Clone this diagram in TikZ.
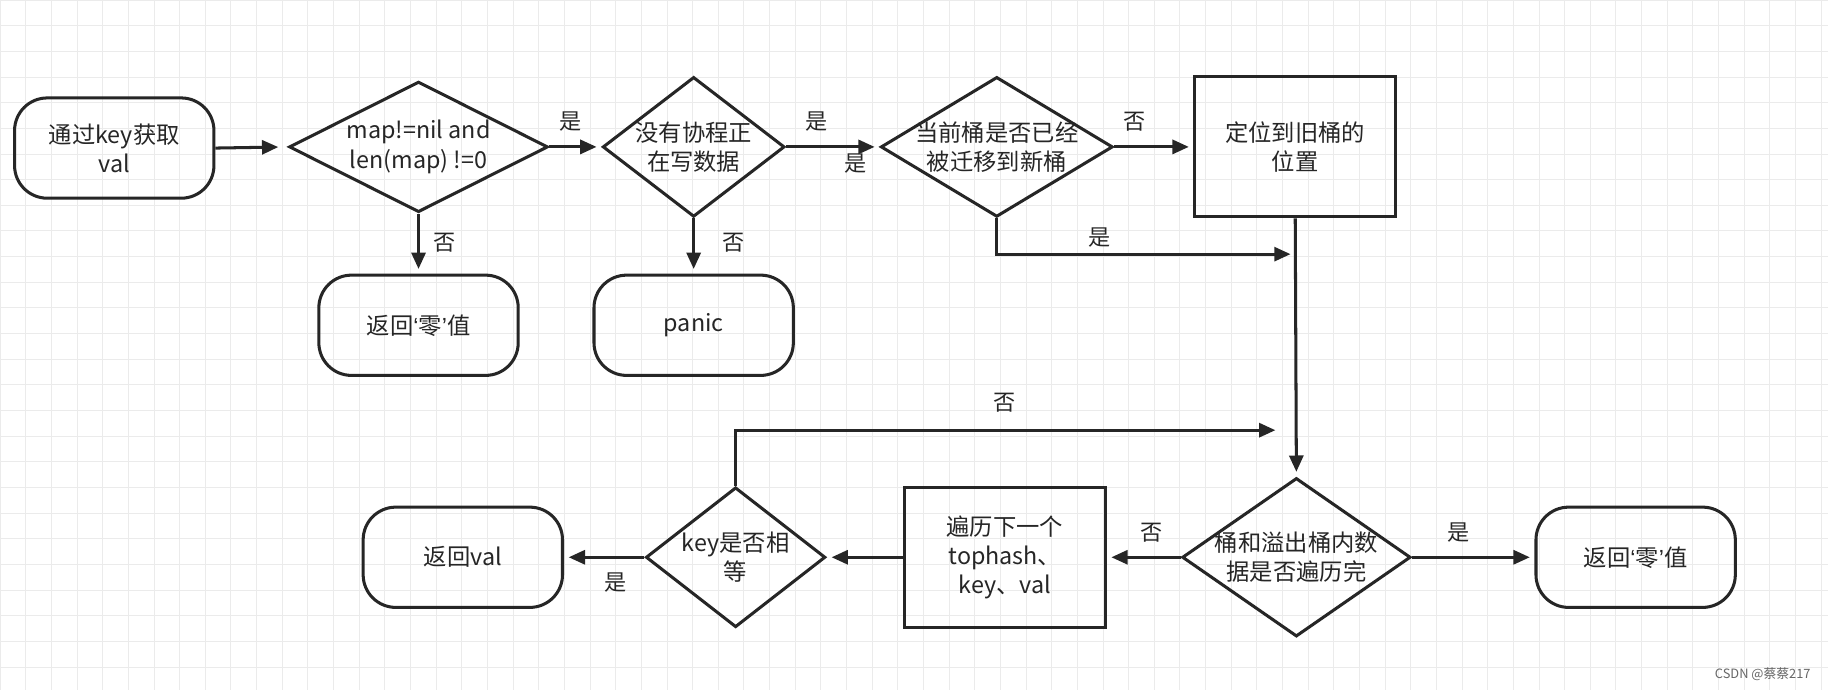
\documentclass[tikz,border=0pt]{standalone}
\usepackage{fontspec}
\setmainfont{Liberation Sans}
\newfontfamily\cjk{Noto Sans CJK SC}
\newcommand{\myLq}{{\rmfamily ‘}}
\newcommand{\myRq}{{\rmfamily ’}}
\usetikzlibrary{shapes.geometric,arrows.meta}
\begin{document}
\begin{tikzpicture}[x=1pt,y=-1pt,
  every node/.style={font=\cjk\fontsize{20}{25}\selectfont,text=black!85,align=center},
  term/.style={draw=black!85,line width=2.6pt,rounded corners=28pt,minimum width=171pt,minimum height=86pt},
  box/.style={draw=black!85,line width=2.6pt,minimum width=172pt,minimum height=120pt},
  dia/.style={draw=black!85,line width=2.6pt,diamond,inner sep=0pt},
  line/.style={draw=black!85,line width=2.6pt},
  arr/.style={line,-{Triangle[length=14pt,width=12pt]},shorten >=4pt},
  lab/.style={font=\cjk\fontsize{19}{22}\selectfont}]
\useasboundingbox (0,0) rectangle (1568,592);
\fill[white] (0,0) rectangle (1568,592);
\foreach \i in {0,22,...,1568} \draw[black!8,line width=0.6pt] (\i,0) -- (\i,592);
\foreach \j in {0,22,...,592} \draw[black!8,line width=0.6pt] (0,\j) -- (1568,\j);
\node[term] (start) at (98,127) {通过key获取\\val};
\node[dia,minimum width=222pt,minimum height=112pt] (d1) at (359,126) {};
\node at (359,126) {map!=nil and\\len(map) !=0};
\node[dia,minimum width=156pt,minimum height=120pt] (d2) at (595,126) {};
\node at (595,126) {没有协程正\\在写数据};
\node[dia,minimum width=199pt,minimum height=120pt] (d3) at (855,126) {};
\node at (855,126) {当前桶是否已经\\被迁移到新桶};
\node[box] (r1) at (1111,126) {定位到旧桶的\\位置};
\node[term] (z1) at (359,279) {返回\myLq 零\myRq 值};
\node[term] (pa) at (595,279) {panic};
\node[dia,minimum width=196pt,minimum height=136pt] (d4) at (1112,478) {};
\node at (1112,478) {桶和溢出桶内数\\据是否遍历完};
\node[term] (z2) at (1403,478) {返回\myLq 零\myRq 值};
\node[box] (r2) at (862,478) {遍历下一个\\tophash、\\key、val};
\node[dia,minimum width=154pt,minimum height=120pt] (d5) at (631,478) {};
\node at (631,478) {key是否相\\等};
\node[term] (rv) at (397,478) {返回val};
\coordinate (c1) at (855,218);
\coordinate (c2) at (1111,218);
\coordinate (c3) at (631,369);
\coordinate (c4) at (1098,369);
\draw[arr,shorten >=8pt] (start.east) -- (d1.west);
\draw[arr] (d1.east) -- (d2.west);
\draw[arr] (d2.east) -- (d3.west);
\draw[arr] (d3.east) -- (r1.west);
\draw[arr] (d1.south) -- (z1.north);
\draw[arr] (d2.south) -- (pa.north);
\draw[arr] (d3.south) -- (c1) -- (c2);
\draw[arr] (r1.south) -- (d4.north);
\draw[arr] (d4.east) -- (z2.west);
\draw[arr] (d4.west) -- (r2.east);
\draw[arr] (r2.west) -- (d5.east);
\draw[arr] (d5.west) -- (rv.east);
\draw[arr] (d5.north) -- (c3) -- (c4);
\node[lab] at (489,104) {是};
\node[lab] at (700,104) {是};
\node[lab] at (734,140) {是};
\node[lab] at (973,104) {否};
\node[lab] at (381,208) {否};
\node[lab] at (629,208) {否};
\node[lab] at (943,204) {是};
\node[lab] at (1251,457) {是};
\node[lab] at (988,457) {否};
\node[lab] at (528,500) {是};
\node[lab] at (862,345) {否};
\node[font=\cjk\fontsize{11}{13}\selectfont,text=black!60] at (1512,578) {CSDN @蔡蔡217};
\end{tikzpicture}
\end{document}
